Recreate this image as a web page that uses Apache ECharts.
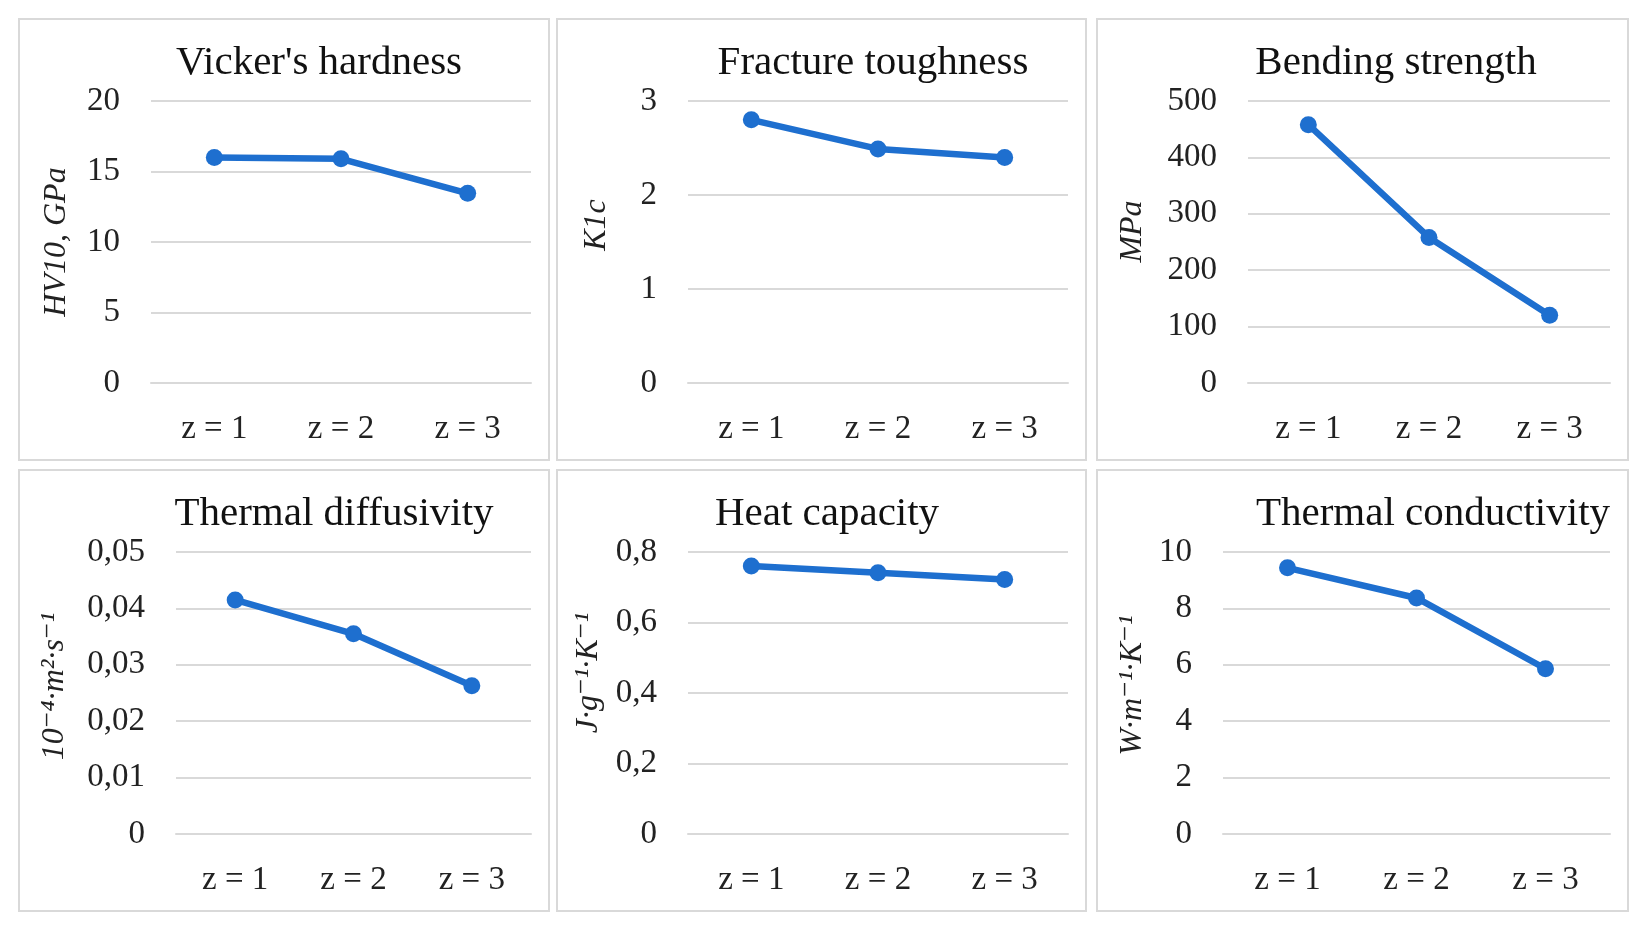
<!DOCTYPE html>
<html>
<head>
<meta charset="utf-8">
<script src="https://cdn.jsdelivr.net/npm/echarts@6/dist/echarts.min.js"></script>
<style>
  html, body { margin: 0; padding: 0; background: #fff; }
  #wrap { position: relative; width: 1647px; height: 926px; background: #fff; }
  .panel { position: absolute; box-sizing: border-box; border: 2px solid #d9d9d9; background: #fff; }
</style>
</head>
<body>
<div id="wrap"></div>
<script>
// ---- data ----
const categories = ['z = 1', 'z = 2', 'z = 3'];
const hardness = [16.0, 15.9, 13.45];
const toughness = [2.80, 2.49, 2.40];
const bending = [458, 258, 120];
const diffusivity = [0.0415, 0.0355, 0.0263];
const heatCapacity = [0.760, 0.741, 0.722];
const conductivity = [9.44, 8.37, 5.86];

const titles = ["Vicker's hardness", 'Fracture toughness', 'Bending strength',
                'Thermal diffusivity', 'Heat capacity', 'Thermal conductivity'];
const yNames = ['HV10, GPa', 'K1c', 'MPa', '10⁻⁴·m²·s⁻¹', 'J·g⁻¹·K⁻¹', 'W·m⁻¹·K⁻¹'];
const yMax = [20, 3, 500, 0.05, 0.8, 10];
const yStep = [5, 1, 100, 0.01, 0.2, 2];
const seriesList = [hardness, toughness, bending, diffusivity, heatCapacity, conductivity];

// ---- layout ----
const boxes = [
  {x: 18, y: 18, w: 532, h: 443}, {x: 556, y: 18, w: 531, h: 443}, {x: 1096, y: 18, w: 533, h: 443},
  {x: 18, y: 469, w: 532, h: 443}, {x: 556, y: 469, w: 531, h: 443}, {x: 1096, y: 469, w: 533, h: 443}
];
const gridLeft = [133, 132, 152, 158, 132, 127];
const titleCx = [294, 310, 293, 309, 264, 330];
const nameGapAdj = [3, 1, 5, 5, -3, -2];
const nameLift = [0, 34, 21, 13, 40, 15];

const FONT = '"Liberation Serif", "DejaVu Serif", serif';
const wrap = document.getElementById('wrap');

function fmt(v) {
  if (v === 0) return '0';
  return String(+v.toFixed(4)).replace('.', ',');
}

boxes.forEach((b, i) => {
  const d = document.createElement('div');
  d.className = 'panel';
  d.style.left = b.x + 'px'; d.style.top = b.y + 'px';
  d.style.width = b.w + 'px'; d.style.height = b.h + 'px';
  wrap.appendChild(d);
  const c = document.createElement('div');
  c.style.position = 'absolute'; c.style.left = '0'; c.style.top = '0';
  c.style.width = (b.w - 4) + 'px'; c.style.height = (b.h - 4) + 'px';
  d.appendChild(c);
  const chart = echarts.init(c, null, {renderer: 'canvas'});
  chart.setOption({
    animation: false,
    title: {
      text: titles[i], left: titleCx[i], top: 18, textAlign: 'center',
      textStyle: {fontFamily: FONT, fontSize: 41, fontWeight: 'normal', color: '#111'}
    },
    grid: {left: gridLeft[i] - 2, right: 17, top: 81, bottom: 76},
    xAxis: {
      type: 'category', data: categories, boundaryGap: true,
      axisLine: {show: true, lineStyle: {color: '#d9d9d9', width: 2}},
      axisTick: {show: false},
      axisLabel: {fontFamily: FONT, fontSize: 33, color: '#222', margin: 30}
    },
    yAxis: {
      type: 'value', min: 0, max: yMax[i], interval: yStep[i],
      name: yNames[i], nameLocation: 'middle', nameGap: gridLeft[i] - 58 + nameGapAdj[i],
      nameTextStyle: {fontFamily: FONT, fontSize: 32, fontStyle: 'italic', color: '#222',
                      padding: [0, 0, 0, nameLift[i]]},
      axisLine: {show: false}, axisTick: {show: false},
      splitLine: {lineStyle: {color: '#d9d9d9', width: 2}},
      axisLabel: {fontFamily: FONT, fontSize: 33, color: '#222', margin: 31, formatter: fmt}
    },
    series: [{
      type: 'line', data: seriesList[i],
      symbol: 'circle', symbolSize: 17,
      lineStyle: {color: '#1E6FCF', width: 6.5},
      itemStyle: {color: '#1E6FCF'}
    }]
  });
});
</script>
</body>
</html>
